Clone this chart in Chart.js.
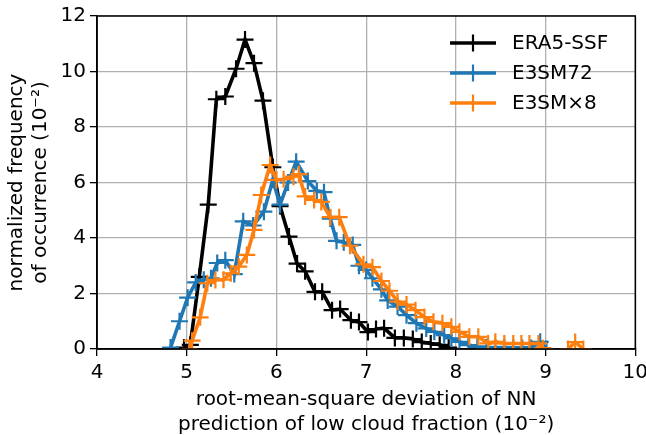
<!DOCTYPE html>
<html>
<head>
<meta charset="utf-8">
<script src="https://cdn.jsdelivr.net/npm/chart.js@4.4.1/dist/chart.umd.min.js"></script>
<style>
  html, body { margin: 0; padding: 0; background: #fff; }
  #wrap { width: 646px; height: 435px; }
</style>
</head>
<body>
<div id="wrap"><canvas id="chart" width="646" height="435"></canvas></div>
<script>
// values (x in 1e-2, y in 1e-2)
const xTicks = [4, 5, 6, 7, 8, 9, 10];
const yTicks = [0, 2, 4, 6, 8, 10, 12];

const eraX = [4.97, 5.04, 5.14, 5.24, 5.33, 5.43, 5.55, 5.65, 5.75, 5.85, 5.96, 6.04, 6.14, 6.23, 6.32, 6.43, 6.51, 6.62, 6.71, 6.83, 6.92, 7.02, 7.11, 7.20, 7.32, 7.42, 7.52, 7.62, 7.72, 7.82, 7.92];
const eraY = [0.05, 0.15, 2.6, 5.2, 9.0, 9.1, 10.1, 11.15, 10.3, 8.95, 6.55, 5.15, 4.05, 3.08, 2.8, 2.06, 2.06, 1.4, 1.44, 1.04, 0.97, 0.61, 0.72, 0.75, 0.4, 0.4, 0.36, 0.25, 0.2, 0.15, 0.05];

const e72X = [4.82, 4.92, 5.01, 5.10, 5.19, 5.27, 5.34, 5.43, 5.53, 5.63, 5.74, 5.86, 5.96, 6.04, 6.13, 6.22, 6.35, 6.45, 6.53, 6.60, 6.67, 6.75, 6.85, 6.92, 7.00, 7.07, 7.17, 7.24, 7.35, 7.45, 7.56, 7.67, 7.76, 7.87, 7.95, 8.04, 8.14, 8.24, 8.34, 8.44, 8.54, 8.64, 8.74, 8.84, 8.94, 9.01];
const e72Y = [0.05, 1.0, 1.85, 2.4, 2.5, 2.55, 3.1, 3.2, 2.7, 4.6, 4.45, 4.95, 6.1, 5.2, 6.0, 6.75, 6.05, 5.7, 5.65, 4.7, 3.9, 3.85, 3.75, 3.0, 2.85, 2.55, 2.15, 1.75, 1.53, 1.22, 0.93, 0.74, 0.62, 0.5, 0.38, 0.26, 0.14, 0.08, 0.06, 0.05, 0.05, 0.04, 0.04, 0.04, 0.26, 0.0];

const e8X = [5.03, 5.06, 5.15, 5.23, 5.32, 5.41, 5.49, 5.58, 5.67, 5.75, 5.83, 5.93, 6.00, 6.08, 6.19, 6.25, 6.32, 6.42, 6.50, 6.60, 6.70, 6.82, 6.97, 7.07, 7.17, 7.26, 7.35, 7.45, 7.55, 7.65, 7.75, 7.85, 7.95, 8.04, 8.15, 8.25, 8.36, 8.44, 8.54, 8.64, 8.73, 8.82, 8.92, 8.97, 9.10, 9.25, 9.33, 9.42];
const e8Y = [0.0, 0.3, 1.14, 2.37, 2.49, 2.5, 2.73, 2.97, 3.39, 4.29, 5.55, 6.63, 6.09, 6.12, 6.21, 6.3, 5.5, 5.37, 5.3, 4.75, 4.75, 3.72, 3.05, 2.95, 2.45, 2.1, 1.71, 1.6, 1.4, 1.15, 0.98, 0.93, 0.8, 0.62, 0.44, 0.44, 0.2, 0.26, 0.2, 0.2, 0.2, 0.2, 0.2, 0.03, null, 0.0, 0.25, 0.0];

const seriesNames = ['ERA5-SSF', 'E3SM72', 'E3SM\u00d78'];
const seriesColors = ['#000000', '#1f77b4', '#ff7f0e'];

const FONT = 'DejaVu Sans';
const FSIZE = 20;

function points(xs, ys) {
    return xs.map((x, i) => ({ x: x, y: ys[i] }));
}

function makeSet(i, xs, ys, order) {
    return {
        label: seriesNames[i],
        data: points(xs, ys),
        borderColor: seriesColors[i],
        backgroundColor: seriesColors[i],
        borderWidth: 3.6,
        pointStyle: 'cross',
        pointRadius: 8.5,
        pointBorderWidth: 2.2,
        pointHoverRadius: 8.5,
        tension: 0,
        spanGaps: false,
        order: order
    };
}

// top/right spines and in-axes legend
const framePlugin = {
    id: 'frame',
    afterDraw(chart) {
        const { ctx, chartArea: a } = chart;
        ctx.save();
        ctx.strokeStyle = '#000';
        ctx.lineWidth = 1.5;
        ctx.strokeRect(a.left, a.top, a.right - a.left, a.bottom - a.top);

        ctx.font = FSIZE + 'px "' + FONT + '"';
        ctx.textBaseline = 'middle';
        ctx.textAlign = 'left';
        const x0 = 450, x1 = 496, tx = 512;
        const rows = [43, 73, 103];
        for (let i = 0; i < 3; i++) {
            const y = rows[i];
            ctx.strokeStyle = seriesColors[i];
            ctx.lineWidth = 3.6;
            ctx.beginPath();
            ctx.moveTo(x0, y);
            ctx.lineTo(x1, y);
            ctx.stroke();
            ctx.lineWidth = 2.2;
            ctx.beginPath();
            ctx.moveTo((x0 + x1) / 2, y - 8.5);
            ctx.lineTo((x0 + x1) / 2, y + 8.5);
            ctx.stroke();
            ctx.fillStyle = '#000';
            ctx.fillText(seriesNames[i], tx, y + 1);
        }
        ctx.restore();
    }
};

new Chart(document.getElementById('chart').getContext('2d'), {
    type: 'line',
    data: {
        datasets: [
            makeSet(0, eraX, eraY, 2),
            makeSet(1, e72X, e72Y, 1),
            makeSet(2, e8X, e8Y, 0)
        ]
    },
    options: {
        responsive: false,
        animation: false,
        events: [],
        layout: { padding: { left: 5, right: 10, top: 16, bottom: 0 } },
        plugins: {
            legend: { display: false },
            tooltip: { enabled: false }
        },
        scales: {
            x: {
                type: 'linear',
                min: 4,
                max: 10,
                afterBuildTicks: axis => { axis.ticks = xTicks.map(v => ({ value: v })); },
                afterFit: axis => { axis.height = 86; axis.paddingLeft = 0; axis.paddingRight = 0; },
                grid: { color: '#b0b0b0', lineWidth: 1.3, tickColor: '#000', tickLength: 7, tickWidth: 1.3 },
                border: { display: true, color: '#000', width: 1.5 },
                ticks: { color: '#000', font: { family: FONT, size: FSIZE }, padding: 5, maxRotation: 0 },
                title: {
                    display: true,
                    text: ['root-mean-square deviation of NN', 'prediction of low cloud fraction (10\u207b\u00b2)'],
                    color: '#000',
                    font: { family: FONT, size: FSIZE, lineHeight: 1.25 },
                    padding: { top: 0, bottom: -2 }
                }
            },
            y: {
                type: 'linear',
                min: 0,
                max: 12,
                afterBuildTicks: axis => { axis.ticks = yTicks.map(v => ({ value: v })); },
                afterFit: axis => { axis.width = 92; axis.paddingTop = 0; axis.paddingBottom = 0; },
                grid: { color: '#b0b0b0', lineWidth: 1.3, tickColor: '#000', tickLength: 7, tickWidth: 1.3 },
                border: { display: true, color: '#000', width: 1.5 },
                ticks: { color: '#000', font: { family: FONT, size: FSIZE }, padding: 4 },
                title: {
                    display: true,
                    text: ['normalized frequency', 'of occurrence (10\u207b\u00b2)'],
                    color: '#000',
                    font: { family: FONT, size: FSIZE, lineHeight: 1.2 },
                    padding: { top: 0, bottom: 4 }
                }
            }
        }
    },
    plugins: [framePlugin]
});
</script>
</body>
</html>
